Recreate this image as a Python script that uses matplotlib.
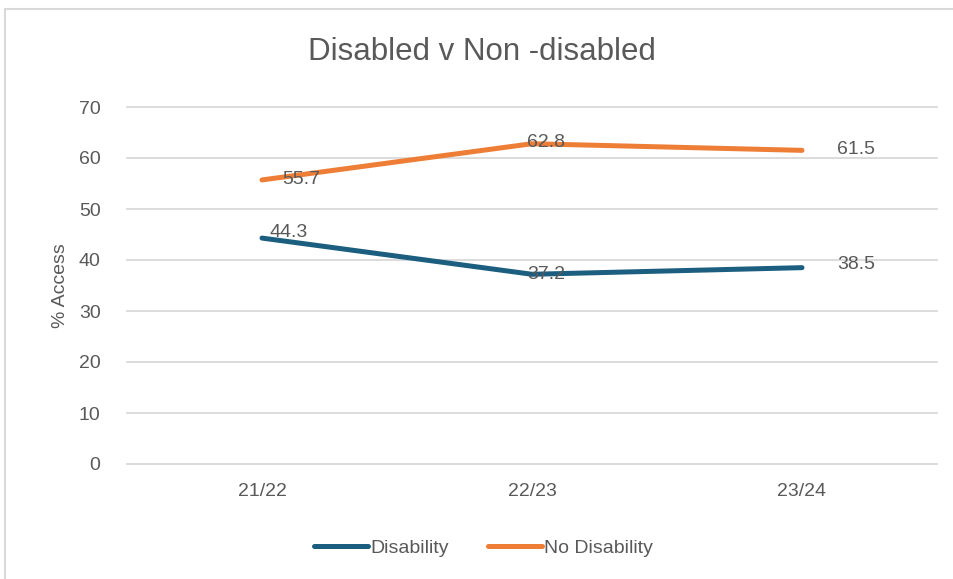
import matplotlib.pyplot as plt
from matplotlib.patches import Rectangle

years = ['21/22', '22/23', '23/24']
disability = [44.3, 37.2, 38.5]
no_disability = [55.7, 62.8, 61.5]

# label offsets (px) for the data labels
dis_off = [(8, 6), (-5, 0), (35, 3)]
nodis_off = [(20, 0), (-5, 1), (35, 1)]

BLUE = '#1b5e80'
ORANGE = '#ee7d36'
GREY = '#595959'
FONT = ['Liberation Sans', 'DejaVu Sans']

plt.rcParams['font.family'] = FONT

fig = plt.figure(figsize=(9.54, 5.79), dpi=100)
ax = fig.add_axes([127 / 954, 1 - 464 / 579, 810 / 954, 357 / 579])

x = range(len(years))
ax.plot(x, disability, color=BLUE, lw=3.6, solid_capstyle='round', label='Disability')
ax.plot(x, no_disability, color=ORANGE, lw=3.6, solid_capstyle='round', label='No Disability')

for i, v in enumerate(disability):
    ax.annotate(f'{v:.1f}', (i, v), xytext=dis_off[i], textcoords='offset pixels',
                va='center', ha='left', fontsize=14, color=GREY)
for i, v in enumerate(no_disability):
    ax.annotate(f'{v:.1f}', (i, v), xytext=nodis_off[i], textcoords='offset pixels',
                va='center', ha='left', fontsize=14, color=GREY)

ax.set_xlim(-0.5, 2.5)
ax.set_ylim(0, 70)
ax.set_yticks(range(0, 71, 10))
ax.set_xticks(list(x))
ax.set_xticklabels(years)
ax.grid(axis='y', color='#d9d9d9', lw=1.3, clip_on=False)
ax.set_axisbelow(True)
for s in ax.spines.values():
    s.set_visible(False)
ax.tick_params(length=0, labelsize=14, colors=GREY)
ax.tick_params(axis='y', pad=19)
ax.tick_params(axis='x', pad=14)
ax.set_ylabel('% Access', fontsize=14, color=GREY, labelpad=7)

fig.text(0.505, 1 - 52 / 579, 'Disabled v Non -disabled', ha='center', va='center',
         fontsize=22.5, color=GREY)

ax.legend(loc='center', bbox_to_anchor=(0.44, -0.235), ncol=2, frameon=False,
          fontsize=14, labelcolor=GREY, handlelength=2.8, handletextpad=0.1,
          columnspacing=2.0)

fig.patches.append(Rectangle((5 / 954, -0.05), 1.1, 1 - 9 / 579 + 0.05,
                             transform=fig.transFigure, fill=False,
                             edgecolor='#d9d9d9', lw=1.5))

fig.savefig('out.png', dpi=100)
